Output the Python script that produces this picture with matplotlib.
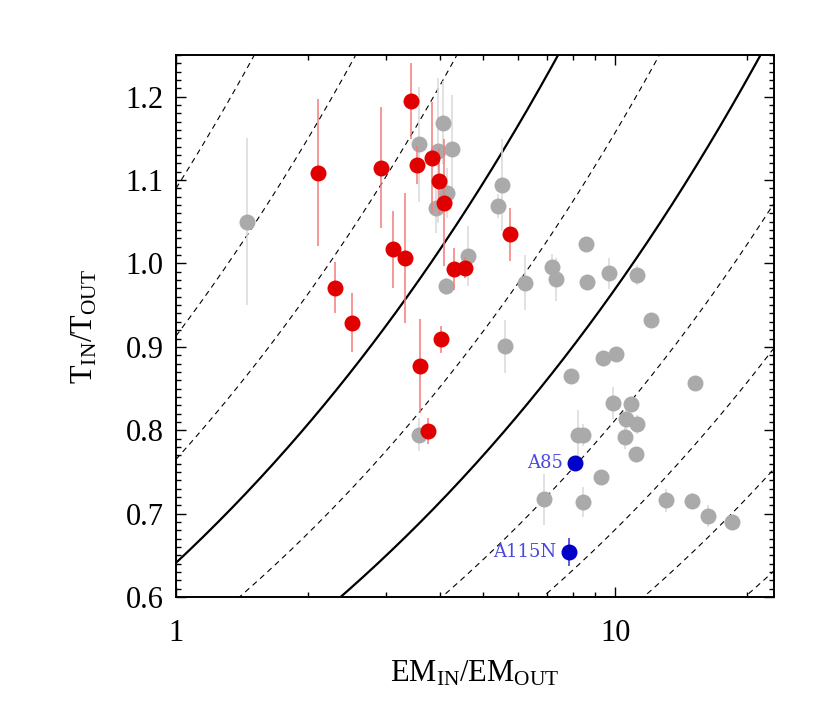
import matplotlib
matplotlib.use("Agg")
import matplotlib.pyplot as plt
import numpy as np
from matplotlib.ticker import FixedLocator, FixedFormatter, NullFormatter, MultipleLocator

#----- Data -----
# grey sample
gray_x = [1.449, 3.584, 4.05, 3.958, 4.246, 4.136, 3.91, 4.618, 4.128, 3.584,
          5.536, 5.423, 8.604, 6.237, 7.175, 7.337, 8.649, 9.70, 11.21, 12.08,
          5.606, 9.406, 10.02, 7.93, 15.19, 9.91, 10.86, 10.56, 11.24, 10.54,
          11.16, 8.25, 8.44, 9.28, 6.90, 8.44, 13.07, 14.98, 16.29, 18.45]
gray_y = [1.050, 1.143, 1.169, 1.135, 1.137, 1.084, 1.067, 1.0085, 0.9725, 0.7945,
          1.094, 1.069, 1.023, 0.977, 0.996, 0.981, 0.978, 0.988, 0.986, 0.932,
          0.9005, 0.8865, 0.891, 0.865, 0.8565, 0.833, 0.832, 0.813, 0.807, 0.792,
          0.771, 0.7945, 0.7945, 0.744, 0.717, 0.714, 0.716, 0.715, 0.697, 0.690]
gray_err = [0.100, 0.069, 0.050, 0.087, 0.065, 0.030, 0.030, 0.036, 0.010, 0.020,
            0.055, 0.014, 0.0, 0.033, 0.015, 0.026, 0.0, 0.019, 0.012, 0.0,
            0.032, 0.0, 0.0, 0.0, 0.0, 0.019, 0.0, 0.020, 0.011, 0.015,
            0.0, 0.030, 0.013, 0.0, 0.031, 0.018, 0.014, 0.010, 0.013, 0.0]

# red sample
red_x = [2.102, 2.931, 3.43, 3.534, 3.836, 3.98, 4.08, 3.126, 3.324,
         4.305, 4.547, 2.302, 2.513, 3.596, 4.009, 3.757, 5.775]
red_y = [1.109, 1.115, 1.195, 1.118, 1.127, 1.099, 1.073, 1.017, 1.007,
         0.993, 0.995, 0.971, 0.929, 0.877, 0.909, 0.799, 1.035]
red_err = [0.088, 0.073, 0.046, 0.023, 0.067, 0.040, 0.076, 0.046, 0.078,
           0.025, 0.013, 0.031, 0.035, 0.056, 0.016, 0.016, 0.032]

# labelled clusters
blue_x = [8.12, 7.86]
blue_y = [0.7605, 0.6536]
blue_err = [0.008, 0.017]
blue_names = ["A85", "A115N"]

# pseudo-entropy ratios of the reference curves
sigma_solid = [0.45, 0.641]
sigma_dashed = [0.222, 0.265, 0.316, 0.377, 0.537, 0.765, 0.913, 1.09]


#----- Style -----
plt.rcParams.update({
    "font.family": ["Liberation Serif", "DejaVu Serif"],
    "mathtext.fontset": "custom",
    "mathtext.rm": "Liberation Serif",
    "mathtext.it": "Liberation Serif:italic",
    "font.size": 22,
    "lines.scale_dashes": False,
})

fig = plt.figure(figsize=(8.27, 7.09), dpi=100)
ax = fig.add_axes([176/827, 1-597/709, (774-176)/827, (597-55)/709])
ax.set_xscale("log")
ax.set_xlim(1, 23)
ax.set_ylim(0.6, 1.25)

#----- Constant pseudo-entropy curves: T ratio = sigma * EM ratio^(1/3) -----
xx = np.logspace(0, np.log10(23), 300)
for s in sigma_dashed:
    ax.plot(xx, s * xx**(1/3.), color="black", lw=0.8, dashes=(4.0, 3.2), zorder=1)
for s in sigma_solid:
    ax.plot(xx, s * xx**(1/3.), color="black", lw=1.6, zorder=1)

#----- Points with error bars -----
ax.vlines(gray_x, np.array(gray_y)-np.array(gray_err), np.array(gray_y)+np.array(gray_err),
          color="#dcdcdc", lw=1.2, zorder=2)
ax.plot(gray_x, gray_y, "o", color="#aaaaaa", ms=11.5, mew=0, zorder=3)

ax.vlines(red_x, np.array(red_y)-np.array(red_err), np.array(red_y)+np.array(red_err),
          color="#f27a7a", lw=1.1, zorder=4)
ax.plot(red_x, red_y, "o", color="#e00000", ms=11.5, mew=0, zorder=5)

ax.vlines(blue_x, np.array(blue_y)-np.array(blue_err), np.array(blue_y)+np.array(blue_err),
          color="#3030d0", lw=1.1, zorder=6)
ax.plot(blue_x, blue_y, "o", color="#0000c8", ms=11.5, mew=0, zorder=7)
for bx, by, name in zip(blue_x, blue_y, blue_names):
    ax.annotate(name, (bx, by), xytext=(-9, 0), textcoords="offset points",
                ha="right", va="center", color="#4848e0", fontsize=13,
                family="DejaVu Serif")

#----- Axes, ticks and labels -----
ax.xaxis.set_major_locator(FixedLocator([1, 10]))
ax.xaxis.set_major_formatter(FixedFormatter(["1", "10"]))
ax.xaxis.set_minor_locator(FixedLocator([2, 3, 4, 5, 6, 7, 8, 9, 20]))
ax.xaxis.set_minor_formatter(NullFormatter())
ax.yaxis.set_major_locator(MultipleLocator(0.1))
ax.yaxis.set_minor_locator(MultipleLocator(0.01))
ax.yaxis.set_major_formatter(matplotlib.ticker.FormatStrFormatter("%.1f"))

ax.tick_params(which="both", direction="in", top=True, right=True, width=1.0)
ax.tick_params(which="major", length=7.5)
ax.tick_params(which="minor", length=3.8)
ax.tick_params(axis="x", which="major", pad=16)
ax.tick_params(axis="y", which="major", pad=9)
for sp in ax.spines.values():
    sp.set_linewidth(1.4)

ax.set_xlabel(r"$\mathrm{EM_{IN}/EM_{OUT}}$", fontsize=22)
ax.set_ylabel(r"$\mathrm{T_{IN}/T_{OUT}}$", fontsize=22)
ax.xaxis.set_label_coords(0.5, -0.115)
ax.yaxis.set_label_coords(-0.128, 0.5)

plt.savefig("out.png", dpi=100)
plt.close()
